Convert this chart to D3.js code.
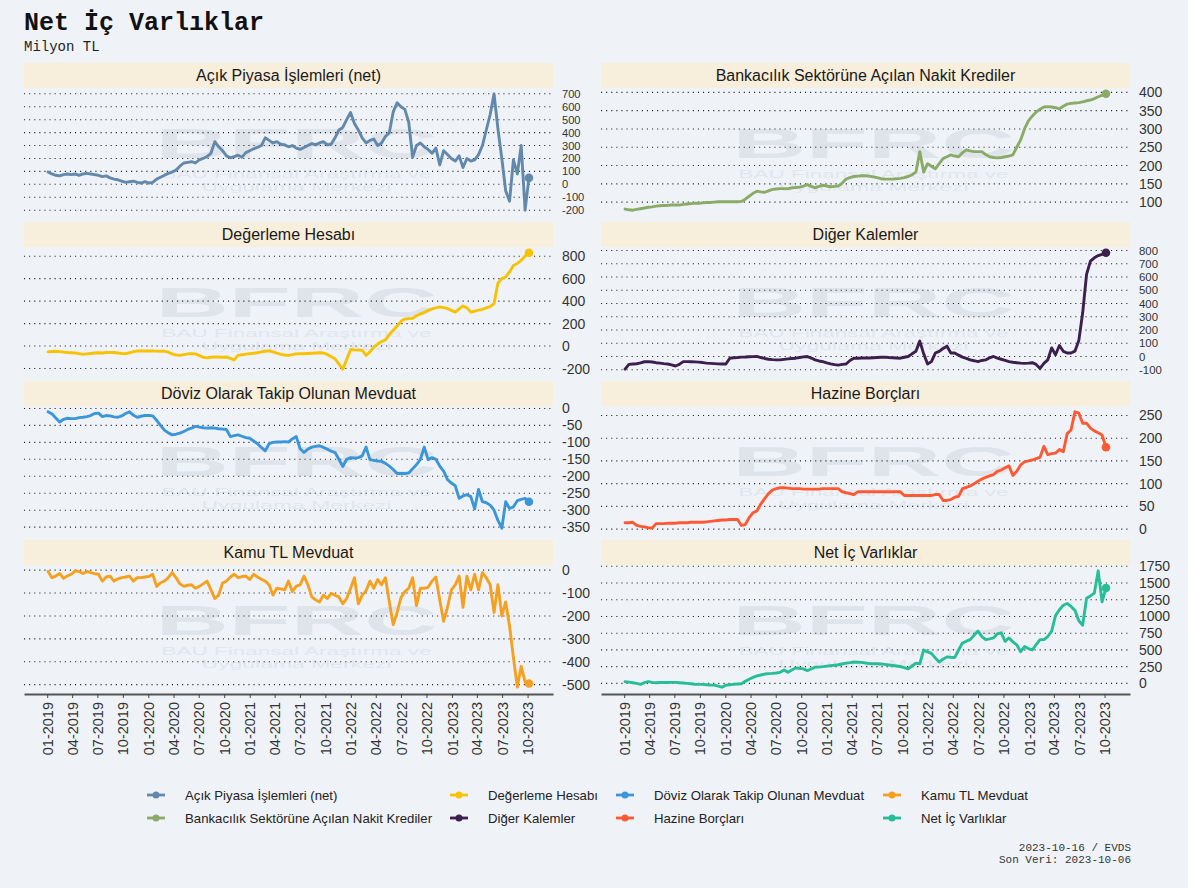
<!DOCTYPE html>
<html>
<head>
<meta charset="utf-8">
<script src="https://cdn.jsdelivr.net/npm/d3@7"></script>
<style>
  body { margin: 0; background: #eff3f8; }
  text { font-family: "Liberation Sans", Arial, Helvetica, sans-serif; }
</style>
</head>
<body>
<svg id="chart" width="1188" height="888"></svg>
<script>
// Haftalık veri, iki haftada bir okunmuş (2019-01-04 .. 2023-10-06)
const firstDate = '2019-01-04';
const lastDate = '2023-10-06';
const stepDays = 14;

const seriesNames = [
  'Açık Piyasa İşlemleri (net)', 'Bankacılık Sektörüne Açılan Nakit Krediler',
  'Değerleme Hesabı', 'Diğer Kalemler',
  'Döviz Olarak Takip Olunan Mevduat', 'Hazine Borçları',
  'Kamu TL Mevduat', 'Net İç Varlıklar'
];

const apiValues = [95,80,70,65,75,80,75,80,70,80,
  85,80,75,70,60,65,50,40,35,25,
  15,20,25,15,10,20,10,15,40,55,
  70,85,95,110,140,165,170,175,165,190,
  200,215,240,330,290,260,220,205,215,225,
  210,245,260,275,285,300,360,340,320,330,
  310,305,290,300,280,270,285,300,315,305,
  320,330,305,310,360,420,440,500,555,470,
  420,360,320,340,350,300,320,370,400,560,
  630,600,580,480,210,300,320,290,270,240,
  280,150,260,230,200,180,220,130,200,180,
  190,230,300,420,540,700,430,200,-50,-130,
  190,80,300,-200,50];

const bankValues = [81,79,78,80,82,84,86,87,89,90,
  91,91,92,92,92,94,95,96,97,97,
  98,99,99,100,101,101,101,101,101,101,
  102,108,116,124,130,128,127,131,135,136,
  137,137,137,139,140,141,144,148,143,139,
  143,146,144,142,143,144,152,163,167,170,
  171,172,172,171,169,167,164,163,163,163,
  164,165,167,170,175,182,238,182,205,198,
  191,205,219,224,229,226,224,235,243,240,
  238,238,238,230,224,222,221,222,224,226,
  229,250,270,300,322,335,346,354,360,361,
  360,358,355,362,368,370,371,372,374,377,
  379,383,388,392,396];

const degerValues = [-52,-48,-46,-50,-54,-58,-60,-62,-68,-74,
  -70,-66,-62,-60,-62,-58,-56,-58,-62,-66,
  -68,-60,-50,-44,-43,-44,-43,-44,-45,-46,
  -46,-55,-70,-80,-83,-76,-70,-68,-70,-85,
  -100,-105,-100,-96,-98,-100,-98,-110,-123,-83,
  -78,-72,-68,-64,-60,-52,-46,-43,-52,-64,
  -74,-80,-83,-76,-70,-68,-68,-66,-64,-62,
  -60,-62,-75,-95,-114,-160,-206,-120,-31,-34,
  -36,-37,-83,-52,-10,18,40,55,102,140,
  178,220,240,244,246,270,286,300,317,330,
  340,348,342,334,318,302,330,357,340,302,
  310,320,326,340,350,378,560,600,615,660,
  717,735,763,800,830];

const digerValues = [-96,-60,-57,-55,-48,-40,-39,-42,-47,-50,
  -54,-57,-64,-72,-60,-39,-39,-40,-41,-43,
  -46,-50,-52,-54,-56,-57,-57,-13,-10,-8,
  -5,-4,-2,-1,0,-8,-15,-21,-24,-26,
  -26,-22,-18,-15,-13,-8,-3,0,-12,-26,
  -34,-39,-48,-56,-62,-65,-60,-57,-30,-13,
  -13,-12,-12,-12,-10,-8,-6,-5,-8,-10,
  -12,-13,-6,0,20,39,116,20,-57,-39,
  26,39,60,78,26,26,10,-5,-15,-26,
  -32,-39,-30,-26,-10,0,-12,-21,-30,-39,
  -44,-47,-50,-52,-50,-47,-60,-90,-52,-26,
  65,13,83,39,26,26,40,120,330,620,
  720,745,762,772,783];

const dovizValues = [-10,-16,-28,-40,-32,-29,-30,-30,-27,-26,
  -24,-21,-15,-14,-24,-21,-22,-25,-26,-22,
  -15,-10,-20,-26,-23,-21,-21,-22,-35,-50,
  -64,-72,-78,-76,-73,-68,-62,-58,-53,-55,
  -57,-58,-57,-58,-60,-61,-62,-83,-80,-78,
  -82,-86,-88,-96,-104,-115,-125,-104,-100,-99,
  -99,-98,-99,-90,-83,-119,-130,-120,-114,-112,
  -110,-115,-120,-126,-130,-150,-171,-150,-145,-146,
  -145,-140,-114,-151,-153,-155,-156,-162,-170,-180,
  -192,-192,-192,-190,-178,-166,-150,-114,-151,-145,
  -150,-170,-185,-210,-220,-228,-265,-258,-254,-260,
  -296,-239,-275,-278,-285,-300,-330,-353,-275,-295,
  -290,-272,-268,-265,-275];

const hazineValues = [14,14,15,8,6,5,3,2,12,12,
  12,13,13,13,14,14,14,15,15,15,
  15,16,17,18,19,20,20,21,21,21,
  8,10,25,36,40,55,67,78,86,89,
  91,91,90,89,89,89,88,88,88,88,
  88,89,89,89,89,89,82,80,78,76,
  82,82,82,82,82,82,82,82,82,82,
  82,82,74,74,74,74,74,74,74,74,
  76,76,63,63,65,70,72,89,92,95,
  100,105,110,114,117,120,127,130,135,139,
  118,127,141,148,150,152,155,158,182,164,
  166,167,175,170,210,218,258,255,233,233,
  222,216,212,207,180];

const kamuValues = [-6,-33,-26,-15,-36,-25,-18,-3,-6,-15,
  -6,-11,-15,-18,-48,-30,-26,-48,-38,-33,
  -30,-26,-48,-33,-32,-30,-28,-18,-71,-55,
  -48,-33,-11,-33,-60,-71,-66,-64,-79,-71,
  -60,-48,-86,-124,-109,-56,-48,-30,-18,-33,
  -28,-26,-41,-18,-30,-40,-48,-64,-109,-79,
  -82,-86,-48,-94,-70,-64,-26,-64,-117,-130,
  -139,-109,-124,-101,-110,-117,-147,-124,-80,-33,
  -147,-109,-90,-48,-79,-41,-64,-33,-139,-238,
  -185,-120,-94,-79,-33,-155,-79,-79,-75,-48,
  -30,-130,-223,-162,-86,-64,-26,-162,-26,-86,
  -18,-86,-11,-33,-64,-185,-64,-200,-139,-245,
  -382,-511,-420,-488,-495];

const netValues = [26,18,10,0,-15,10,26,15,10,12,
  15,14,15,15,10,5,0,-5,-15,-15,
  -15,-20,-24,-26,-40,-57,-26,-20,-15,-10,
  -5,30,62,90,113,125,139,145,149,155,
  165,201,165,200,231,225,216,190,215,242,
  245,250,258,265,270,278,290,303,310,319,
  316,314,305,295,293,293,290,283,275,267,
  260,252,235,216,260,303,293,499,470,448,
  380,319,360,396,390,386,499,602,630,653,
  720,782,700,653,665,679,740,756,628,679,
  620,576,473,550,520,499,580,653,653,700,
  782,1013,1100,1168,1193,1150,1091,936,869,1271,
  1307,1348,1682,1219,1425];

const seriesValues = [apiValues, bankValues, degerValues, digerValues,
  dovizValues, hazineValues, kamuValues, netValues];

const yTickSteps = [100, 50, 200, 100, 50, 50, 100, 250];

const xTickLabels = ['01-2019','04-2019','07-2019','10-2019','01-2020','04-2020','07-2020','10-2020',
  '01-2021','04-2021','07-2021','10-2021','01-2022','04-2022','07-2022','10-2022',
  '01-2023','04-2023','07-2023','10-2023'];

const seriesColors = ['#6289ab', '#8aab68', '#f7c200', '#3c1f4c',
  '#3a96d8', '#fd5a34', '#f5a01f', '#27bd97'];

// ---- yerleşim ----
const W = 1188, H = 888;
const colLeft = [24, 601];
const rowTop = [63, 222, 381, 540];
const plotW = 529, stripH = 25, plotH = 128;
const monoFont = '"Courier New", "Liberation Mono", monospace';

const parseDay = d3.utcParse('%Y-%m-%d');
const parseMonth = d3.utcParse('%m-%Y');
const dates = d3.utcDay.range(parseDay(firstDate), d3.utcDay.offset(parseDay(lastDate), 1), stepDays);

const svg = d3.select('#chart');
svg.append('rect').attr('width', W).attr('height', H).attr('fill', '#eff3f8');

// Başlık
svg.append('text')
  .attr('x', 24).attr('y', 30)
  .attr('font-size', 25).attr('font-weight', 'bold').attr('fill', '#111')
  .style('font-family', monoFont)
  .text('Net İç Varlıklar');
svg.append('text')
  .attr('x', 24).attr('y', 51)
  .attr('font-size', 14).attr('fill', '#222')
  .style('font-family', monoFont)
  .text('Milyon TL');

// x ölçeği (ggplot gibi %5 pay)
const dExt = d3.extent(dates);
const dPad = (dExt[1] - dExt[0]) * 0.05;
const x = d3.scaleUtc()
  .domain([new Date(+dExt[0] - dPad), new Date(+dExt[1] + dPad)])
  .range([0, plotW]);

seriesNames.forEach((name, i) => {
  const col = i % 2, row = Math.floor(i / 2);
  const values = seriesValues[i];
  const color = seriesColors[i];
  const g = svg.append('g').attr('transform', `translate(${colLeft[col]},${rowTop[row]})`);

  // Şerit
  g.append('rect').attr('width', plotW).attr('height', stripH).attr('fill', '#f7eedb');
  g.append('text')
    .attr('x', plotW / 2).attr('y', stripH / 2 + 5.5)
    .attr('text-anchor', 'middle').attr('font-size', 16).attr('fill', '#1a1a1a')
    .text(name);

  const [lo, hi] = d3.extent(values);
  const pad = (hi - lo) * 0.05;
  const y = d3.scaleLinear().domain([lo - pad, hi + pad]).range([stripH + plotH, stripH]);
  const step = yTickSteps[i];
  const ticks = d3.range(Math.ceil((lo - pad) / step) * step, hi + pad + 1e-9, step);
  // sık ızgarada etiketler üst üste binmesin
  const tickGap = Math.abs(y(0) - y(step));
  const labelSize = Math.min(14, tickGap / 1.16);

  // Filigran
  const wm = g.append('g').attr('pointer-events', 'none');
  wm.append('text')
    .attr('x', plotW / 2 + 8).attr('y', stripH + 70)
    .attr('text-anchor', 'middle').attr('font-size', 42).attr('font-weight', 'bold')
    .attr('textLength', 282).attr('lengthAdjust', 'spacingAndGlyphs')
    .attr('fill', '#dfe4ea')
    .text('BFRC');
  wm.append('text')
    .attr('x', plotW / 2 + 8).attr('y', stripH + 90)
    .attr('text-anchor', 'middle').attr('font-size', 11)
    .attr('textLength', 270).attr('lengthAdjust', 'spacingAndGlyphs')
    .attr('fill', '#e1e6ec')
    .text('BAU Finansal Araştırma ve');
  wm.append('text')
    .attr('x', plotW / 2 + 8).attr('y', stripH + 103)
    .attr('text-anchor', 'middle').attr('font-size', 11)
    .attr('textLength', 190).attr('lengthAdjust', 'spacingAndGlyphs')
    .attr('fill', '#e1e6ec')
    .text('Uygulama Merkezi');

  // Izgara ve y etiketleri
  g.selectAll('.grid').data(ticks).enter().append('line')
    .attr('x1', 0).attr('x2', plotW)
    .attr('y1', d => y(d)).attr('y2', d => y(d))
    .attr('stroke', '#222').attr('stroke-width', 1.1)
    .attr('stroke-dasharray', '1.1,4');
  g.selectAll('.ylab').data(ticks).enter().append('text')
    .attr('x', plotW + 9).attr('y', d => y(d)).attr('dy', '0.36em')
    .attr('font-size', labelSize).attr('fill', '#333')
    .text(d => d);

  // Seri
  const line = d3.line().x((d, k) => x(dates[k])).y(d => y(d));
  g.append('path').datum(values)
    .attr('d', line)
    .attr('fill', 'none').attr('stroke', color)
    .attr('stroke-width', 2.9).attr('stroke-linejoin', 'round').attr('stroke-linecap', 'round');
  g.append('circle')
    .attr('cx', x(dates[dates.length - 1])).attr('cy', y(values[values.length - 1]))
    .attr('r', 4.3).attr('fill', color);

  // Alt sıradaki x ekseni
  if (row === 3) {
    const ax = g.append('g')
      .attr('transform', `translate(0,${stripH + plotH + 1})`)
      .call(d3.axisBottom(x)
        .tickValues(xTickLabels.map(parseMonth))
        .tickFormat(d3.utcFormat('%m-%Y'))
        .tickSize(4).tickSizeOuter(0));
    ax.select('.domain').attr('stroke', '#555').attr('stroke-width', 2);
    ax.selectAll('.tick line').attr('stroke', '#444');
    ax.selectAll('.tick text')
      .attr('transform', 'rotate(-90)')
      .attr('text-anchor', 'end')
      .attr('x', -8).attr('y', 0).attr('dy', '0.35em')
      .attr('font-size', 14.5).attr('fill', '#333')
      .style('font-family', '"Liberation Sans", Arial, sans-serif');
  }
});

// Lejant
const legendTextX = [185, 488, 654, 921];
const legendRowY = [795, 818];
seriesNames.forEach((name, i) => {
  const col = Math.floor(i / 2), row = i % 2;
  const lg = svg.append('g').attr('transform', `translate(${legendTextX[col]},${legendRowY[row]})`);
  lg.append('line')
    .attr('x1', -38).attr('x2', -20).attr('y1', 0).attr('y2', 0)
    .attr('stroke', seriesColors[i]).attr('stroke-width', 2.8);
  lg.append('circle').attr('cx', -29).attr('cy', 0).attr('r', 3.5).attr('fill', seriesColors[i]);
  lg.append('text')
    .attr('x', 0).attr('y', 0).attr('dy', '0.35em')
    .attr('font-size', 13.2).attr('fill', '#222')
    .text(name);
});

// Kaynak notu
svg.append('text')
  .attr('x', 1131).attr('y', 851).attr('text-anchor', 'end')
  .attr('font-size', 11).attr('fill', '#333')
  .style('font-family', monoFont)
  .text('2023-10-16 / EVDS');
svg.append('text')
  .attr('x', 1131).attr('y', 863).attr('text-anchor', 'end')
  .attr('font-size', 11).attr('fill', '#333')
  .style('font-family', monoFont)
  .text('Son Veri: 2023-10-06');
</script>
</body>
</html>
